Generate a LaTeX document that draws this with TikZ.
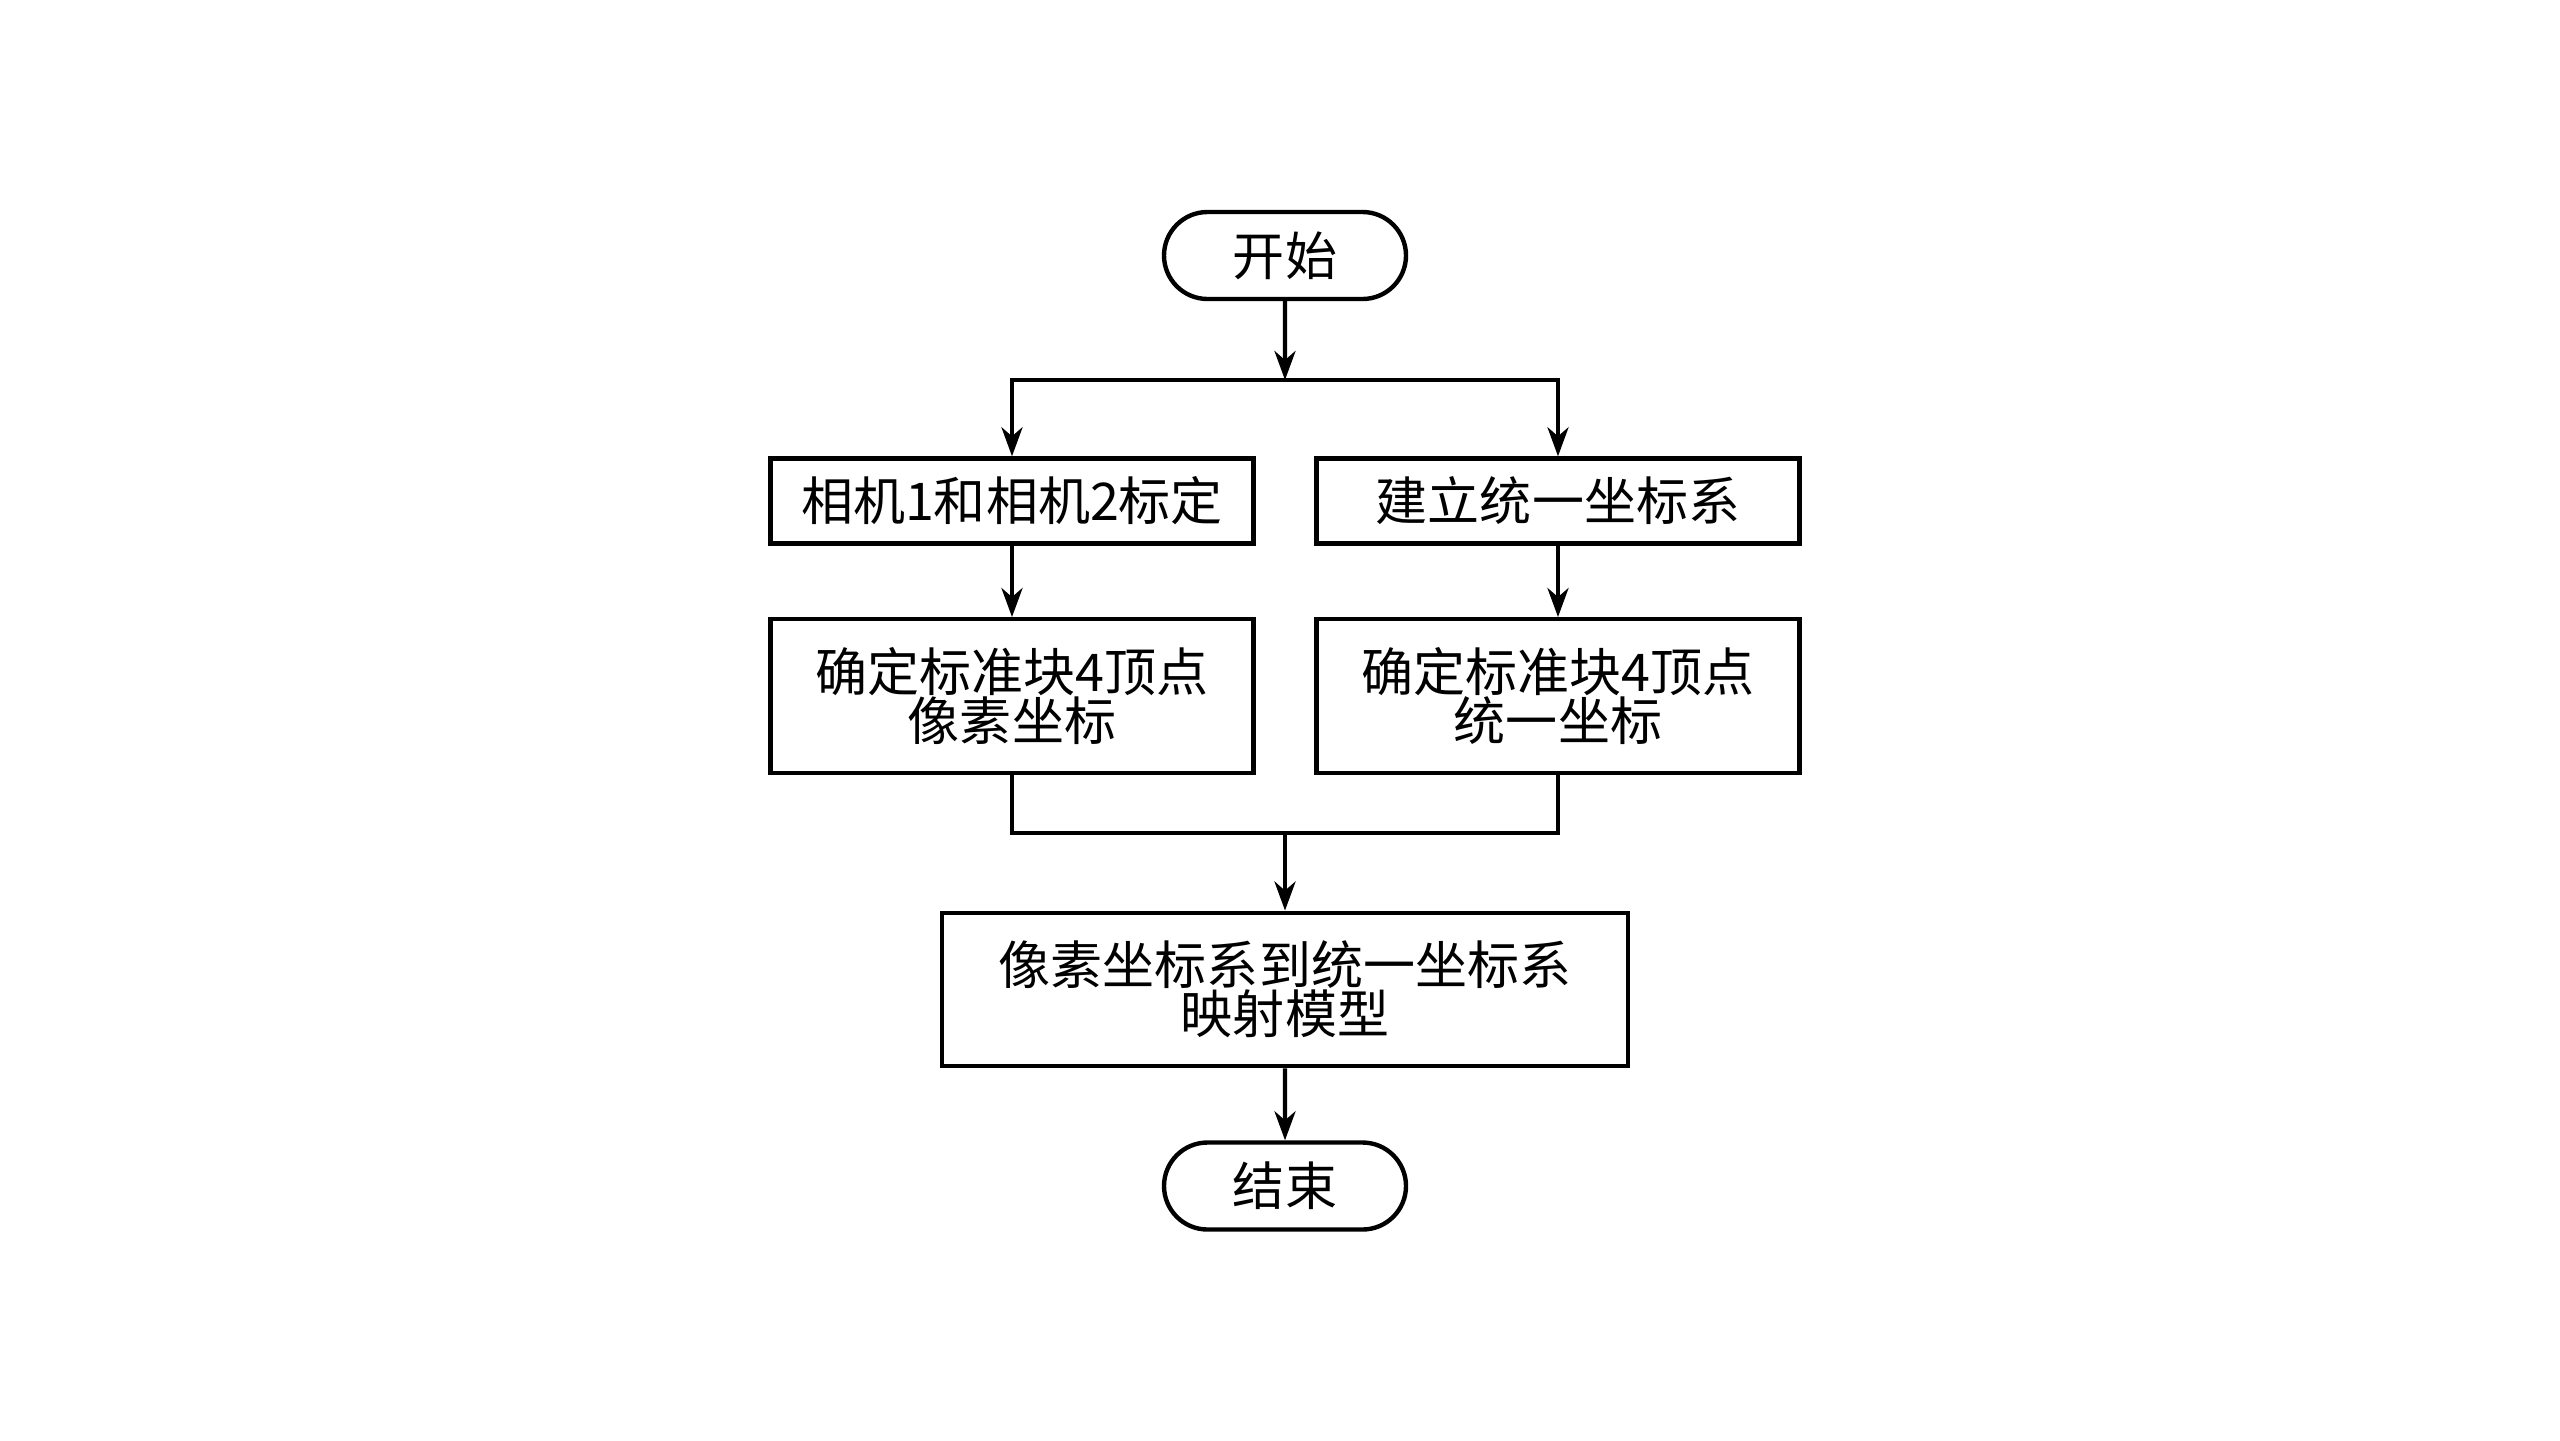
\documentclass[tikz,border=0pt]{standalone}
\usepackage{fontspec}
\setmainfont{Noto Sans CJK SC}
\usepackage{tikz}
\usetikzlibrary{arrows.meta}
\usetikzlibrary{positioning}
\usetikzlibrary{shapes.misc}

\begin{document}
\begin{tikzpicture}[->,>={Stealth[length=2.9mm,width=2.1mm,inset=0.9mm]}, line width=1.25pt, node distance=1.6cm,
    font=\fontsize{14.8}{14}\selectfont]
            \tikzstyle{every node}=[text=black, draw, align=center, inner sep=0pt]
            \tikzstyle{terminal}=[rounded rectangle, minimum width=2.42cm, minimum height=0.87cm]
            \tikzstyle{process}=[rectangle, minimum width=4.83cm, minimum height=0.85cm]
            \tikzstyle{tallbox}=[rectangle, minimum width=4.83cm, minimum height=1.535cm]

            \useasboundingbox (0,0) rectangle (25.6,-14.4);

            \node[terminal] (start) at (12.85,-2.555) {开始};
            \node[process]  (calib) at (10.12,-5.01) {相机1和相机2标定};
            \node[process]  (world) at (15.58,-5.01) {建立统一坐标系};
            \node[tallbox]  (pixel) at (10.12,-6.96) {确定标准块4顶点\\像素坐标};
            \node[tallbox]  (unify) at (15.58,-6.96) {确定标准块4顶点\\统一坐标};
            \node[tallbox, minimum width=6.86cm] (model) at (12.85,-9.895) {像素坐标系到统一坐标系\\映射模型};
            \node[terminal] (stop)  at (12.85,-11.86) {结束};

            \coordinate (split) at (12.85,-3.80);
            \coordinate (merge) at (12.85,-8.33);

            \path (start) edge (split)
                (split) edge [to path={-| (\tikztotarget)}] (calib)
                (split) edge [to path={-| (\tikztotarget)}] (world)
                (calib) edge (pixel)
                (world) edge (unify)
                (pixel) edge [-, to path={|- (\tikztotarget)}] (merge)
                (unify) edge [-, to path={|- (\tikztotarget)}] (merge)
                (merge) edge (model)
                (model) edge (stop)
            ;
        \end{tikzpicture}
\end{document}
